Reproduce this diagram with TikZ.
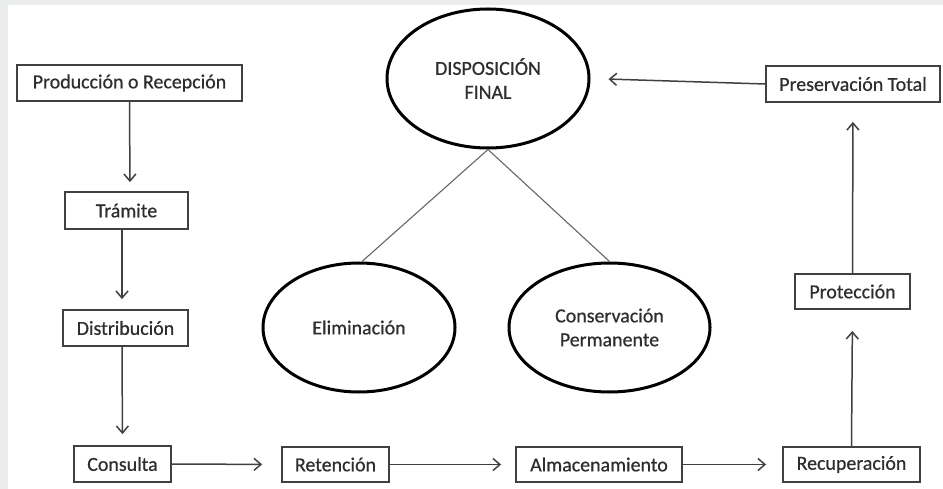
\documentclass[tikz,border=0pt]{standalone}
\usepackage{fontspec}
\setmainfont{Carlito}
\newfontfamily\lblfont{Carlito}[FakeBold=0.6]
\usetikzlibrary{shapes.geometric,arrows.meta}
\definecolor{bggray}{HTML}{EBEDEC}
\definecolor{txt}{HTML}{2E2E2E}
\definecolor{edge}{HTML}{404040}
\begin{document}
\begin{tikzpicture}[x=1bp,y=-1bp,
  every node/.style={text=txt,font=\lblfont\fontsize{20}{24}\selectfont},
  box/.style={draw=edge,line width=1.8bp,rectangle,inner sep=0pt,align=center},
  oval/.style={draw=black,line width=3bp,ellipse,inner sep=0pt,align=center},
  conn/.style={draw=edge,line width=1.5bp,-{Straight Barb[length=7bp,width=12bp,line width=1.5bp]}},
  tie/.style={draw=edge!80,line width=1.1bp}]
\useasboundingbox (0,0) rectangle (943,489);
\fill[bggray] (0,0) rectangle (943,489);
\fill[white] (8,5) rectangle (943,489);
% boxes
\node[box,minimum width=225bp,minimum height=36bp] (prod) at (129.5,83) {Producción o Recepción};
\node[box,minimum width=123bp,minimum height=37bp] (tram) at (126.5,210.5) {Trámite};
\node[box,minimum width=125bp,minimum height=36bp] (dist) at (125.5,328) {Distribución};
\node[box,minimum width=97bp,minimum height=36bp] (cons) at (122.5,464) {Consulta};
\node[box,minimum width=107bp,minimum height=35bp] (ret) at (335.5,464.5) {Retención};
\node[box,minimum width=166bp,minimum height=35bp] (alm) at (599,464.5) {Almacenamiento};
\node[box,minimum width=137bp,minimum height=35bp] (rec) at (851.5,464.5) {Recuperación};
\node[box,minimum width=115bp,minimum height=35bp] (prot) at (852.5,291.5) {Protección};
\node[box,minimum width=174bp,minimum height=36bp] (pres) at (853,84) {Preservación Total};
% ellipses
\node[oval,minimum width=202bp,minimum height=139bp] (disp) at (488,78.5) {DISPOSICIÓN\\FINAL};
\node[oval,minimum width=192bp,minimum height=129bp] (elim) at (359,327.5) {Eliminación};
\node[oval,minimum width=201bp,minimum height=129bp] (cperm) at (609.5,327.5) {Conservación\\Permanente};
% ties
\draw[tie] (disp.south) -- ([xshift=3bp]elim.north);
\draw[tie] (disp.south) -- (cperm.north);
% arrows
\draw[conn,shorten >=9bp] (prod.south) -- ([xshift=3.5bp]tram.north);
\draw[conn,shorten >=10bp] ([xshift=-4.5bp]tram.south) -- ([xshift=-3.5bp]dist.north);
\draw[conn,shorten >=11bp] ([xshift=-3.5bp]dist.south) -- (cons.north);
\draw[conn,shorten >=19bp] (cons.east) -- (ret.west);
\draw[conn,shorten >=14bp] (ret.east) -- (alm.west);
\draw[conn,shorten >=16bp] (alm.east) -- (rec.west);
\draw[conn,shorten >=21bp] (rec.north) -- (prot.south);
\draw[conn,shorten >=19bp] (prot.north) -- (pres.south);
\draw[conn,shorten >=18bp] (pres.west) -- (disp.east);
\end{tikzpicture}
\end{document}
